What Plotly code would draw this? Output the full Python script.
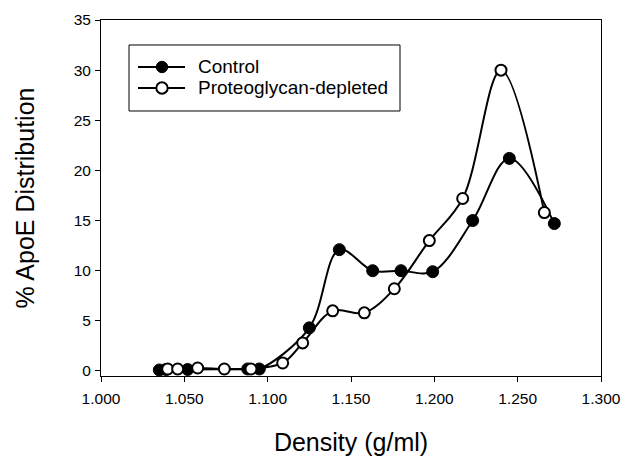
import plotly.graph_objects as go

# Data
control_density = [1.035, 1.039, 1.052, 1.088, 1.095, 1.125, 1.143, 1.163, 1.180, 1.199, 1.223, 1.245, 1.272]
control_apoe = [0.1, 0.15, 0.15, 0.2, 0.2, 4.3, 12.1, 10.0, 10.0, 9.9, 15.0, 21.2, 14.7]

depleted_density = [1.040, 1.046, 1.058, 1.074, 1.090, 1.109, 1.121, 1.139, 1.158, 1.176, 1.197, 1.217, 1.240, 1.266]
depleted_apoe = [0.2, 0.2, 0.3, 0.2, 0.2, 0.8, 2.8, 6.0, 5.8, 8.2, 13.0, 17.2, 30.0, 15.8]

series_names = ["Control", "Proteoglycan-depleted"]

x_ticks = [1.000, 1.050, 1.100, 1.150, 1.200, 1.250, 1.300]
x_tick_labels = ["1.000", "1.050", "1.100", "1.150", "1.200", "1.250", "1.300"]
y_ticks = [0, 5, 10, 15, 20, 25, 30, 35]

FONT = "Arial, Liberation Sans, sans-serif"

fig = go.Figure()
fig.add_trace(go.Scatter(
    x=control_density, y=control_apoe, name=series_names[0],
    mode="lines+markers",
    line=dict(color="black", width=2, shape="spline", smoothing=1.0),
    marker=dict(symbol="circle", size=12, color="black", line=dict(color="black", width=1)),
))
fig.add_trace(go.Scatter(
    x=depleted_density, y=depleted_apoe, name=series_names[1],
    mode="lines+markers",
    line=dict(color="black", width=2, shape="spline", smoothing=1.0),
    marker=dict(symbol="circle", size=11, color="white", line=dict(color="black", width=2)),
))

# Legend drawn as a framed key in paper coordinates
shapes = [
    dict(type="rect", xref="paper", yref="paper", x0=0.056, x1=0.598, y0=0.7444, y1=0.9298,
         line=dict(color="black", width=1), fillcolor="white", layer="above"),
]
annotations = []
rows = [(0.868, "black", 1), (0.809, "white", 2)]
for (yy, fill, lw), name in zip(rows, series_names):
    shapes.append(dict(type="line", xref="paper", yref="paper", x0=0.074, x1=0.168, y0=yy, y1=yy,
                       line=dict(color="black", width=2), layer="above"))
    shapes.append(dict(type="circle", xref="paper", yref="paper",
                       xsizemode="pixel", ysizemode="pixel", xanchor=0.122, yanchor=yy,
                       x0=-5.7, x1=5.7, y0=-5.7, y1=5.7,
                       fillcolor=fill, line=dict(color="black", width=lw), layer="above"))
    annotations.append(dict(xref="paper", yref="paper", x=0.19, y=yy, xanchor="left", yanchor="middle",
                            text=name, showarrow=False, font=dict(size=19, family=FONT, color="black")))

fig.update_layout(
    width=624, height=449,
    margin=dict(l=93, r=31, t=12, b=81),
    paper_bgcolor="white", plot_bgcolor="white",
    font=dict(family=FONT, color="black"),
    showlegend=False,
    shapes=shapes,
    annotations=annotations,
    xaxis=dict(
        range=[1.0, 1.3], tickvals=x_ticks, ticktext=x_tick_labels,
        automargin=False,
        ticks="outside", ticklen=5, tickcolor="black", tickwidth=1,
        showline=True, linecolor="black", linewidth=1, mirror=True,
        showgrid=False, zeroline=False,
        tickfont=dict(size=15.5, family=FONT, color="black"),
        ticklabelstandoff=3,
        title=dict(text="Density (g/ml)", font=dict(size=25, family=FONT, color="black"), standoff=27),
    ),
    yaxis=dict(
        range=[-0.5, 35], tickvals=y_ticks,
        automargin=False,
        ticks="outside", ticklen=5, tickcolor="black", tickwidth=1,
        showline=True, linecolor="black", linewidth=1, mirror=True,
        showgrid=False, zeroline=False,
        tickfont=dict(size=15.5, family=FONT, color="black"),
        ticklabelstandoff=1,
        title=dict(text="% ApoE Distribution", font=dict(size=25, family=FONT, color="black"), standoff=31),
    ),
)

fig.write_html("out.html")
